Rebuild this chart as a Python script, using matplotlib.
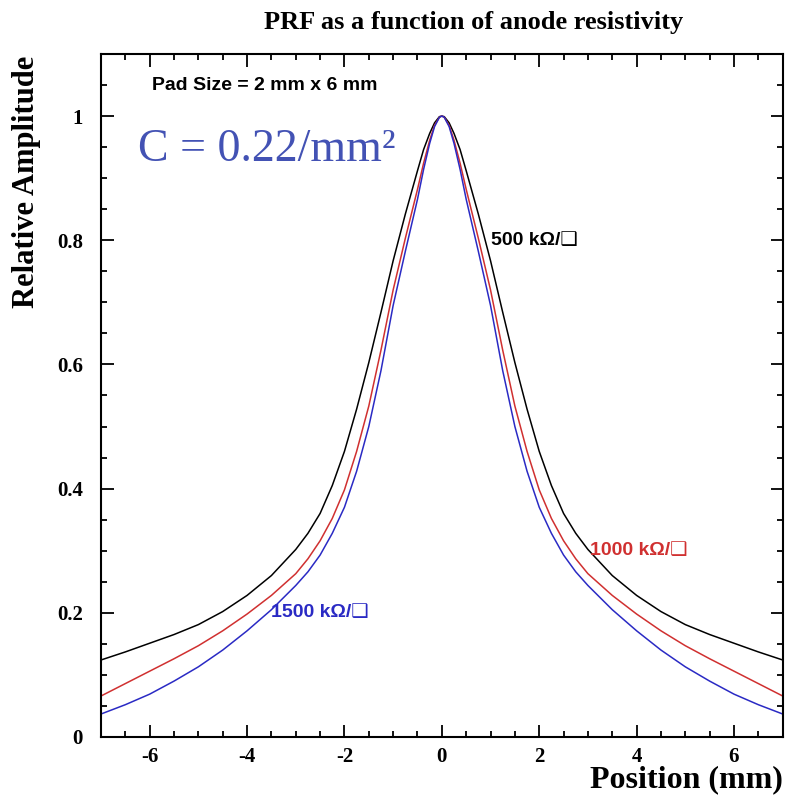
import matplotlib
matplotlib.use('Agg')
import matplotlib.pyplot as plt
from matplotlib.ticker import MultipleLocator

# curve data (position in mm, relative amplitude)
pos = [-7, -6.5, -6, -5.5, -5, -4.5, -4, -3.5, -3, -2.75, -2.5, -2.25, -2, -1.75, -1.5, -1.25, -1, -0.75, -0.5,
       -0.375, -0.25, -0.15, -0.05, 0,
       0.05, 0.15, 0.25, 0.375, 0.5, 0.75, 1, 1.25, 1.5, 1.75, 2, 2.25, 2.5, 2.75, 3, 3.5, 4, 4.5, 5, 5.5, 6, 6.5, 7]
amp_500 = [0.124, 0.137, 0.151, 0.165, 0.181, 0.202, 0.228, 0.260, 0.302, 0.328, 0.360, 0.405, 0.460, 0.528, 0.603,
           0.684, 0.767, 0.842, 0.912, 0.946, 0.972, 0.989, 0.999, 1.0,
           0.999, 0.989, 0.972, 0.946, 0.912, 0.842, 0.767, 0.684, 0.603, 0.528, 0.460, 0.405, 0.360, 0.328, 0.302,
           0.260, 0.228, 0.202, 0.181, 0.165, 0.151, 0.137, 0.124]
amp_1000 = [0.066, 0.086, 0.106, 0.126, 0.147, 0.171, 0.198, 0.228, 0.263, 0.287, 0.316, 0.352, 0.398, 0.460, 0.533,
            0.623, 0.720, 0.803, 0.882, 0.924, 0.961, 0.985, 0.998, 1.0,
            0.998, 0.985, 0.961, 0.924, 0.882, 0.803, 0.720, 0.623, 0.533, 0.460, 0.398, 0.352, 0.316, 0.287, 0.263,
            0.228, 0.198, 0.171, 0.147, 0.126, 0.106, 0.086, 0.066]
amp_1500 = [0.037, 0.052, 0.069, 0.090, 0.113, 0.140, 0.171, 0.205, 0.244, 0.266, 0.293, 0.328, 0.370, 0.428, 0.500,
            0.590, 0.695, 0.782, 0.866, 0.914, 0.956, 0.983, 0.998, 1.0,
            0.998, 0.983, 0.956, 0.914, 0.866, 0.782, 0.695, 0.590, 0.500, 0.428, 0.370, 0.328, 0.293, 0.266, 0.244,
            0.205, 0.171, 0.140, 0.113, 0.090, 0.069, 0.052, 0.037]

serif = 'Liberation Serif'
sans = ['Liberation Sans', 'DejaVu Sans']
red = '#d03030'
blue = '#2a2ac4'

fig = plt.figure(figsize=(7.89, 7.97), dpi=100)
ax = fig.add_axes([0.128, 0.0753, 0.864, 0.857])

ax.plot(pos, amp_500, color='black', lw=1.1)
ax.plot(pos, amp_1000, color=red, lw=1.1)
ax.plot(pos, amp_1500, color=blue, lw=1.1)

ax.set_xlim(-7, 7)
ax.set_ylim(0, 1.1)
ax.xaxis.set_minor_locator(MultipleLocator(0.5))
ax.yaxis.set_minor_locator(MultipleLocator(0.05))
ax.tick_params(which='both', direction='in', top=True, right=True, width=1.3)
ax.tick_params(which='major', length=9)
ax.tick_params(which='minor', length=4.5)
ax.tick_params(axis='y', pad=13)
ax.tick_params(axis='x', pad=7)
for sp in ax.spines.values():
    sp.set_linewidth(1.5)

ax.set_xticks([-6, -4, -2, 0, 2, 4, 6])
ax.set_xticklabels(['-6', '-4', '-2', '0', '2', '4', '6'])
ax.set_yticks([0, 0.2, 0.4, 0.6, 0.8, 1.0])
ax.set_yticklabels(['0', '0.2', '0.4', '0.6', '0.8', '1'])
for lab in ax.get_xticklabels() + ax.get_yticklabels():
    lab.set_fontfamily(serif)
    lab.set_fontweight('bold')
    lab.set_fontsize(15)

fig.text(0.60, 0.972, 'PRF as a function of anode resistivity', family=serif, weight='bold',
         fontsize=19, ha='center', va='center')
ax.set_ylabel('Relative Amplitude', family=serif, weight='bold', fontsize=22)
ax.yaxis.set_label_coords(-0.088, 0.813)
fig.text(0.992, 0.022, 'Position (mm)', family=serif, weight='bold', fontsize=23, ha='right', va='center')

ax.text(-5.95, 1.05, 'Pad Size = 2 mm x 6 mm', family=sans, weight='bold', fontsize=14, va='center')
ax.text(-6.25, 0.945, 'C = 0.22/mm\u00b2', family=serif, fontsize=33, color='#4352b4', va='center')
ax.text(1.0, 0.80, '500 k\u03a9/\u2751', family=sans, weight='bold', fontsize=14, va='center')
ax.text(3.05, 0.30, '1000 k\u03a9/\u2751', family=sans, weight='bold', fontsize=14, va='center', color=red)
ax.text(-3.5, 0.20, '1500 k\u03a9/\u2751', family=sans, weight='bold', fontsize=14, va='center', color=blue)

fig.savefig('out.png', dpi=100)
